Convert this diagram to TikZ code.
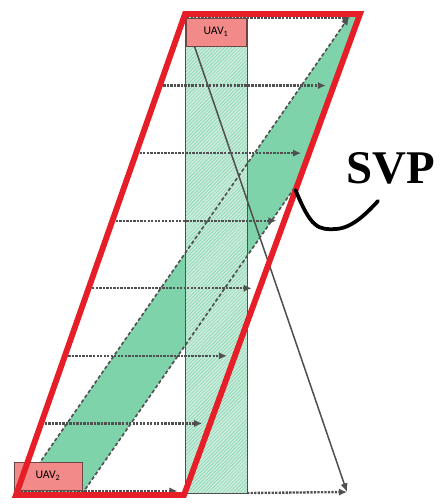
\documentclass[tikz,border=0pt]{standalone}
\usepackage{fontspec}
\setmainfont{Liberation Serif}
\newfontfamily\uavfont{Carlito}
\usetikzlibrary{arrows.meta, calc, patterns}
\definecolor{cred}{HTML}{E61E28}
\definecolor{cmint}{HTML}{7FD3AA}
\definecolor{chatch}{HTML}{A9E0C5}
\definecolor{cpink}{HTML}{F28A8A}
\definecolor{cedge}{HTML}{6E4646}
\definecolor{cgrey}{HTML}{505050}
\tikzset{
  frame/.style={draw=cred, line width=5pt, line join=miter},
  bandfill/.style={fill=cmint},
  bandedge/.style={draw=cgrey, densely dashed, line width=1.4pt},
  strip/.style={draw=cgrey, line width=0.8pt},
  uav/.style={draw=cedge, fill=cpink, line width=0.8pt, font=\uavfont,
              inner sep=0pt, minimum height=0.84cm},
  row/.style={-{Latex[length=2.4mm, width=2.2mm]}, draw=cgrey, densely dotted, line width=2pt},
  track/.style={-{Latex[length=2.6mm, width=2.2mm]}, draw=cgrey, line width=1.3pt},
  hook/.style={draw=black, line width=3.2pt, line cap=round},
}
\begin{document}
\begin{tikzpicture}[x=0.03cm, y=-0.03cm]
  \useasboundingbox (0,0) rectangle (439,504);
  % corners of the red frame
  \coordinate (tl) at (185,14);
  \coordinate (tr) at (360,14);
  \coordinate (br) at (184,495);
  \coordinate (bl) at (16,495);
  % green band, clipped by the frame
  \coordinate (bandBL) at (18,494);
  \coordinate (bandBR) at (82,494);
  \coordinate (bandTL) at (349,17);
  \coordinate (bandTR) at (413,17);
  \begin{scope}
    \clip (tl) -- (tr) -- (br) -- (bl) -- cycle;
    \fill[bandfill] (bandBL) -- (bandBR) -- (bandTR) -- (bandTL) -- cycle;
  \end{scope}
  % hatched strip under UAV1
  \fill[chatch!60] (185,14) rectangle (247,493);
  \fill[pattern=north east lines, pattern color=cmint] (185,14) rectangle (247,493);
  \draw[strip] (185,14) rectangle (247,493);
  % band borders
  \draw[bandedge, -{Latex[length=2.4mm, width=2.2mm]}] (bandBL) -- (bandTL);
  \draw[bandedge] (bandBR) -- ($(bandBR)!0.65!(bandTR)$);
  % rows
  \foreach \k in {0,...,7} {
    \pgfmathsetmacro\rowy{18+\k*67.57}
    \pgfmathsetmacro\rowt{(\rowy-14)/481}
    \coordinate (l\k) at ($(tl)!\rowt!(bl)$);
    \coordinate (r\k) at ($(tr)!\rowt!(br)+(-8,0)$);
    \draw[row] (l\k) -- (r\k);
  }
  % UAVs and track
  \node[uav, minimum width=1.8cm] (uav1) at (216,32) {UAV\textsubscript{1}};
  \node[uav, minimum width=2.04cm] (uav2) at (48,476) {UAV\textsubscript{2}};
  \coordinate (tip) at (347,492);
  \draw[track] ($(uav1.south west)+(9,0)$) -- (tip);
  \draw[row] (247,493) -- (tip);
  % frame
  \draw[frame] (tl) -- (tr) -- (br) -- (bl) -- cycle;
  % label
  \node[font=\fontsize{40}{40}\selectfont\bfseries, inner sep=0pt] (svp) at (391,168) {SVP};
  \coordinate (mark) at ($(tr)!0.366!(br)$);
  \coordinate (hookend) at (378,201);
  \draw[hook] (mark) .. controls (311,228) and (318,230) .. (336,229)
    .. controls (352,228) and (366,214) .. (hookend);
\end{tikzpicture}
\end{document}
